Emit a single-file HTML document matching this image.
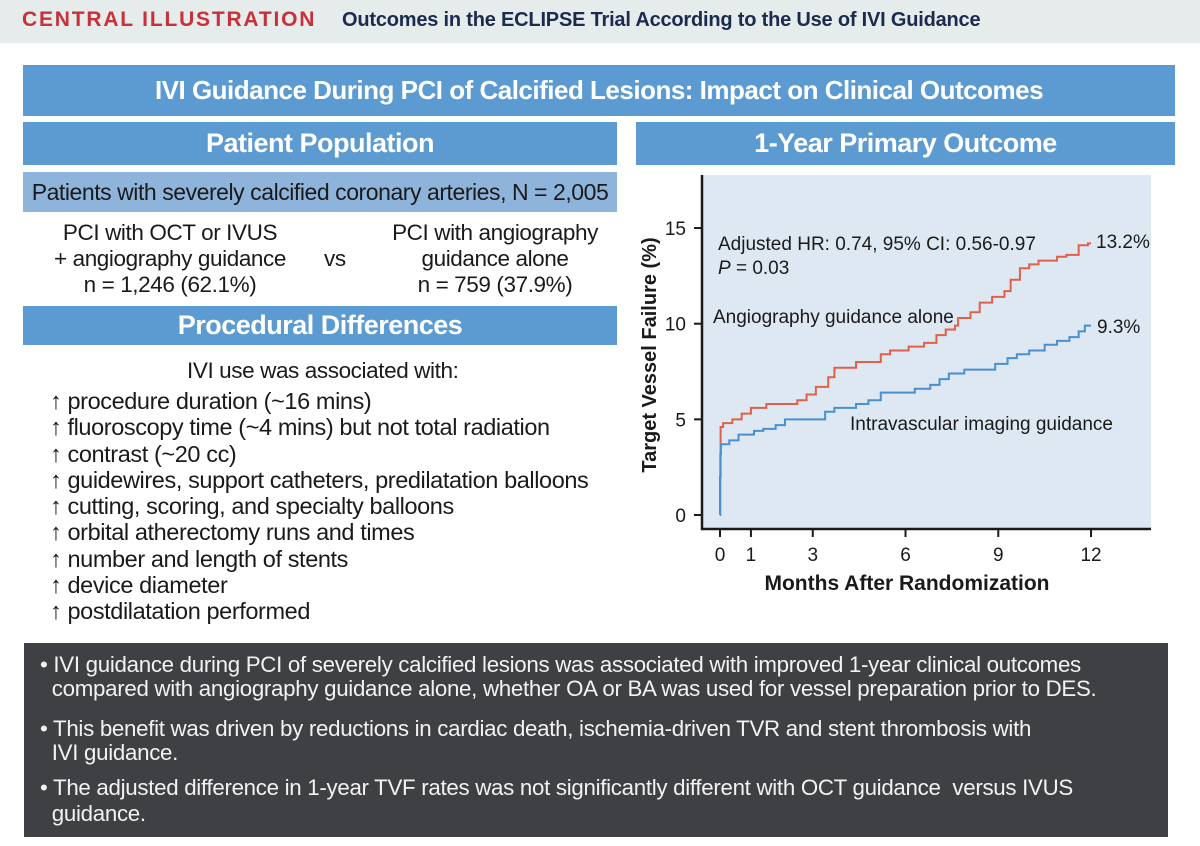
<!DOCTYPE html>
<html><head><meta charset="utf-8">
<style>
*{margin:0;padding:0;box-sizing:border-box}
body{width:1200px;height:846px;background:#fff;font-family:"Liberation Sans",sans-serif;position:relative;overflow:hidden;color:#1a1a1a}
.abs{position:absolute}
.bar{position:absolute;background:#5b9bd2;color:#fff;text-align:center;font-weight:bold;letter-spacing:-0.5px}
.t{position:absolute;font-size:22.5px;letter-spacing:-0.4px;white-space:nowrap}
.b{position:absolute;font-size:22.3px;color:#f2f2f2;white-space:nowrap;letter-spacing:-0.3px}
</style></head><body>
<div class="abs" style="left:0;top:0;width:1200px;height:43px;background:#e6ecec"></div>
<div class="abs" style="left:22px;top:8px;font-size:21px;font-weight:bold;color:#c8303a;letter-spacing:1.8px;white-space:nowrap">CENTRAL ILLUSTRATION</div>
<div class="abs" style="left:342px;top:9px;font-size:20px;font-weight:bold;color:#1b2a4e;white-space:nowrap;letter-spacing:-0.2px">Outcomes in the ECLIPSE Trial According to the Use of IVI Guidance</div>

<div class="bar" style="left:23px;top:65px;width:1152px;height:51px;line-height:51px;font-size:26px">IVI Guidance During PCI of Calcified Lesions: Impact on Clinical Outcomes</div>
<div class="bar" style="left:23px;top:122px;width:594px;height:43px;line-height:43px;font-size:27px">Patient Population</div>
<div class="bar" style="left:636px;top:122px;width:539px;height:43px;line-height:43px;font-size:27px">1-Year Primary Outcome</div>
<div class="abs" style="left:23px;top:172px;width:594px;height:40px;background:#8fb4dc;font-size:23px;line-height:40px;text-align:center;letter-spacing:-0.45px;white-space:nowrap">Patients with severely calcified coronary arteries, N = 2,005</div>

<div class="t" style="left:30px;top:220px;width:280px;text-align:center;line-height:26px">PCI with OCT or IVUS<br>+ angiography guidance<br>n = 1,246 (62.1%)</div>
<div class="t" style="left:324px;top:246px">vs</div>
<div class="t" style="left:365px;top:220px;width:260px;text-align:center;line-height:26px">PCI with angiography<br>guidance alone<br>n = 759 (37.9%)</div>

<div class="bar" style="left:23px;top:306px;width:594px;height:39px;line-height:39px;font-size:27px">Procedural Differences</div>
<div class="t" style="left:187px;top:358px">IVI use was associated with:</div>
<div class="t" style="left:50px;top:388px;line-height:26.3px;font-size:23.5px">
↑ procedure duration (~16 mins)<br>
↑ fluoroscopy time (~4 mins) but not total radiation<br>
↑ contrast (~20 cc)<br>
↑ guidewires, support catheters, predilatation balloons<br>
↑ cutting, scoring, and specialty balloons<br>
↑ orbital atherectomy runs and times<br>
↑ number and length of stents<br>
↑ device diameter<br>
↑ postdilatation performed</div>

<svg class="abs" style="left:0;top:0" width="1200" height="846" id="chart"></svg>

<div class="abs" style="left:24px;top:643px;width:1144px;height:194px;background:#3f4043"></div>
<div class="b" style="left:40px;top:653px;line-height:24px">• IVI guidance during PCI of severely calcified lesions was associated with improved 1-year clinical outcomes<br>&nbsp;&nbsp;compared with angiography guidance alone, whether OA or BA was used for vessel preparation prior to DES.</div>
<div class="b" style="left:40px;top:717px;line-height:24px">• This benefit was driven by reductions in cardiac death, ischemia-driven TVR and stent thrombosis with<br>&nbsp;&nbsp;IVI guidance.</div>
<div class="b" style="left:40px;top:775px;line-height:26px">• The adjusted difference in 1-year TVF rates was not significantly different with OCT guidance&nbsp; versus IVUS<br>&nbsp;&nbsp;guidance.</div>

<script>
const xTicks=[0,1,3,6,9,12];
const yTicks=[0,5,10,15];
const angioT=[0,0.02,0.1,0.4,0.7,1.0,1.5,2.5,2.8,3.1,3.5,3.7,4.4,5.2,5.5,6.1,6.6,7.0,7.3,7.6,7.7,8.1,8.4,8.8,9.2,9.4,9.7,10.0,10.3,10.9,11.2,11.6,11.9];
const angioV=[2.0,4.6,4.8,5.0,5.3,5.6,5.8,6.0,6.3,6.7,7.2,7.7,8.0,8.4,8.6,8.8,9.0,9.4,9.7,9.9,10.3,10.6,11.1,11.4,11.7,12.3,12.9,13.1,13.3,13.5,13.6,14.1,14.2];
const iviT=[0,0.01,0.03,0.3,0.6,1.1,1.4,1.8,2.1,3.3,3.4,3.7,4.4,4.8,5.2,6.3,6.8,7.1,7.4,7.9,8.9,9.3,9.6,10.0,10.5,10.9,11.3,11.6,11.8];
const iviV=[0,3.2,3.7,3.9,4.2,4.4,4.5,4.7,5.0,5.0,5.4,5.6,5.8,6.0,6.4,6.6,6.8,7.1,7.4,7.6,7.9,8.2,8.4,8.6,8.9,9.1,9.3,9.6,9.9];
const endT=12;
const NS='http://www.w3.org/2000/svg';
const svg=document.getElementById('chart');
const X=m=>720+m*30.92;
const Y=v=>515-v*19.13;
function el(tag,attrs,text){const e=document.createElementNS(NS,tag);for(const k in attrs)e.setAttribute(k,attrs[k]);if(text!==undefined)e.textContent=text;svg.appendChild(e);return e;}
let e;
e=el('rect',{x:702,y:175,width:449,height:354,fill:'#dde8f3'});


e=el('path',{d:'M702 175 V529 H1151',stroke:'#1a1a1a','stroke-width':2.5,fill:'none'});


yTicks.forEach(v=>{
 e=el('line',{x1:694,x2:702,y1:Y(v),y2:Y(v),stroke:'#1a1a1a','stroke-width':2});
 
 
 e=el('text',{x:686,y:Y(v)+7,'text-anchor':'end','font-size':19,fill:'#1a1a1a','font-family':'Liberation Sans'},String(v));
 
 
});
xTicks.forEach(m=>{
 e=el('line',{x1:X(m),x2:X(m),y1:529,y2:537,stroke:'#1a1a1a','stroke-width':2});
 
 
 e=el('text',{x:X(m),y:561,'text-anchor':'middle','font-size':19,fill:'#1a1a1a','font-family':'Liberation Sans'},String(m));
 
 
});
function step(T,V){let d='M'+X(T[0])+' '+Y(0);for(let i=0;i<T.length;i++){d+=' H'+X(T[i])+' V'+Y(V[i]);}d+=' H'+X(endT);return d;}
e=el('path',{d:step(angioT,angioV),stroke:'#e0604a','stroke-width':2,fill:'none'});


e=el('path',{d:step(iviT,iviV),stroke:'#4a8fd0','stroke-width':2,fill:'none'});


const lbls=[
 ['x-axis-title',907,590,'Months After Randomization',21,'bold','middle'],
 ['hr-annotation',718,250,'Adjusted HR: 0.74, 95% CI: 0.56-0.97',19,'normal','start'],
 ['angio-label',713,323,'Angiography guidance alone',19,'normal','start'],
 ['ivi-label',850,430,'Intravascular imaging guidance',19,'normal','start'],
 ['angio-end-value',1096,248,'13.2%',19,'normal','start'],
 ['ivi-end-value',1097,333,'9.3%',19,'normal','start']];
lbls.forEach(l=>{
 e=el('text',{x:l[1],y:l[2],'font-size':l[4],'font-weight':l[5],'text-anchor':l[6],fill:'#1a1a1a','font-family':'Liberation Sans'},l[3]);
 
 
});
e=el('text',{x:718,y:274,'font-size':19,fill:'#1a1a1a','font-family':'Liberation Sans'},'');
e.innerHTML='<tspan font-style="italic">P</tspan> = 0.03';


e=el('text',{x:0,y:0,'font-size':20,'font-weight':'bold','text-anchor':'middle',fill:'#1a1a1a','font-family':'Liberation Sans',transform:'translate(656,355) rotate(-90)'},'Target Vessel Failure (%)');


</script>
</body></html>
